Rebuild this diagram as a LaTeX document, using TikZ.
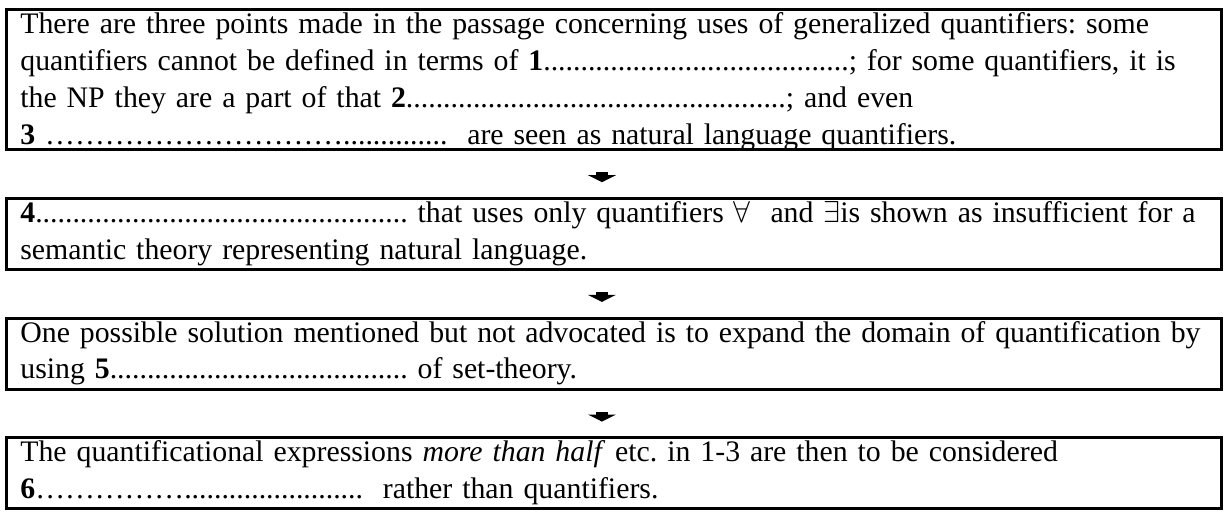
\documentclass[tikz,border=0pt]{standalone}
\usepackage{fontspec}
\setmainfont{Liberation Serif}
\usetikzlibrary{positioning,arrows.meta}
\frenchspacing

\begin{document}
\begin{tikzpicture}[node distance=19.2pt]
  \tikzstyle{summary} = [rectangle, draw, line width=1.2pt, outer sep=0pt, inner xsep=5.5pt, inner ysep=0pt, text width=470.1pt, align=left, text height=9.5pt, text depth=18.7pt, font=\fontsize{11.8}{14.6}\selectfont]
  \tikzstyle{link} = [line width=5pt, -{Triangle[width=11pt, length=2.8pt]}, shorten <=8.9pt, shorten >=6.4pt]

  \useasboundingbox (0,0) rectangle (485.1pt,-205.1pt);

  \node [summary, text depth=46.1pt, anchor=north west] (part1) at (2.57pt,-3.76pt) {\mbox{There are three points made in the passage concerning uses of generalized quantifiers: some}\\
    \mbox{quantifiers cannot be defined in terms of \textbf{1}.........................................; for some quantifiers, it is}\\
    \mbox{the NP they are a part of that \textbf{2}...................................................; and even}\\
    \mbox{\textbf{3} …………………………..............~ are seen as natural language quantifiers.}};
  \node [summary, below=of part1] (part2) {\mbox{\textbf{4}.................................................. that uses only quantifiers $\forall$~ and $\exists$is shown as insufficient for a}\\
    semantic theory representing natural language.};
  \node [summary, below=of part2] (part3) {\mbox{One possible solution mentioned but not advocated is to expand the domain of quantification by}\\
    \mbox{using \textbf{5}........................................ of set-theory.}};
  \node [summary, below=of part3] (part4) {\mbox{The quantificational expressions \textit{more than half} etc. in 1-3 are then to be considered}\\
    \mbox{\textbf{6}……………........................~ rather than quantifiers.}};

  \draw[link] ([xshift=-4.75pt]part1.south) -- ([xshift=-4.75pt]part2.north);
  \draw[link] ([xshift=-4.75pt]part2.south) -- ([xshift=-4.75pt]part3.north);
  \draw[link] ([xshift=-4.75pt]part3.south) -- ([xshift=-4.75pt]part4.north);
\end{tikzpicture}
\end{document}
